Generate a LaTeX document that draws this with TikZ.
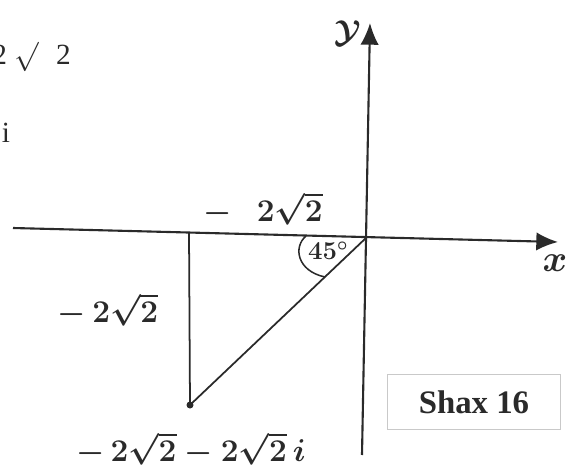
\RequirePackage{fix-cm}
\documentclass[tikz,border=0pt]{standalone}
\usepackage{amsmath,amssymb}
\usepackage{fontspec}
\newfontfamily\typed{Liberation Serif}
\usetikzlibrary{arrows.meta}
\definecolor{ink}{HTML}{2A2A2A}
\definecolor{paste}{HTML}{C9C9C9}
\newcommand{\handsize}[1]{\fontsize{#1}{#1}\selectfont\boldmath}
\tikzset{
 every node/.append style={text=ink,inner sep=0pt},
 axis/.style={-{Latex[length=6.5mm,width=5.5mm]},draw=ink,line width=1.8pt},
 stroke/.style={draw=ink,line width=1.5pt},
 hand/.style={font=\handsize{27}},
 small hand/.style={font=\handsize{22}},
 typedtext/.style={font=\typed\fontsize{25}{25}\selectfont},
 tag/.style={font=\typed\bfseries\fontsize{28}{28}\selectfont,draw=paste,line width=.5pt,minimum width=5.2cm,minimum height=1.65cm},
}
\begin{document}
\begin{tikzpicture}[x=0.03cm,y=-0.03cm]

\useasboundingbox (0,0) rectangle (575,469);
\coordinate (O) at (367,237);
\coordinate (xleft) at (13,228);
\coordinate (xright) at (558,242);
\coordinate (ybottom) at (362,455);
\coordinate (ytop) at (370,23);
\coordinate (foot) at (189,232);
\coordinate (P) at (190,405);
\coordinate (arcstart) at (306,236);
\coordinate (arcend) at (325,277);

\draw[axis] (xleft) -- (xright);
\draw[axis] (ybottom) -- (ytop);
\draw[stroke] (foot) -- (P);
\draw[stroke] (P) -- (O);
\fill[ink] (P) circle (3.5);
\draw[stroke,line width=1.3pt] (arcstart) .. controls (293,247) and (297,271) .. (arcend);

\node[hand] (ylab) at (348,33) {$\mathcal{Y}$};
\node[font=\handsize{32}] (xlab) at (555,263) {$x$};
\node[hand] (re) at (263,209) {$-\hspace{0.8em}2\sqrt{2}$};
\node[small hand] (angle) at (328,251) {$45^{\circ}$};
\node[hand] (im) at (108,310) {$-\hspace{0.2em}2\sqrt{2}$};
\node[hand] (point) at (191,449) {$-\,2\sqrt{2}-2\sqrt{2}\,i$};
\node[tag] (shax) at (474,402) {Shax 16};

\node[typedtext,anchor=east] (root) at (71,57) {2\hspace{6pt}$\surd$\hspace{15pt}2};
\node[typedtext] (unit) at (6,133) {i};

\end{tikzpicture}
\end{document}
